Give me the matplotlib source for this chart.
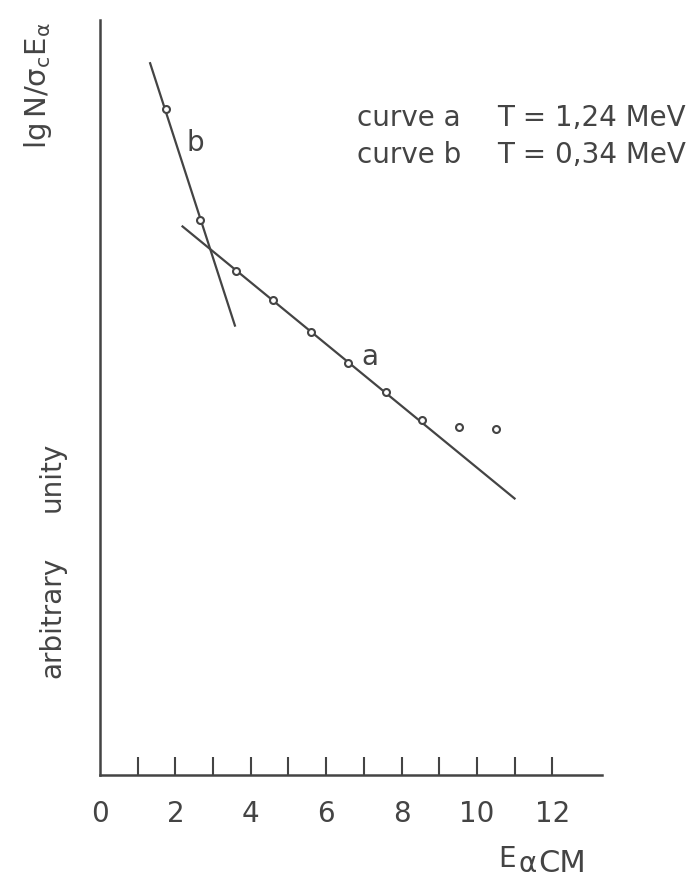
import matplotlib
matplotlib.use("Agg")
import matplotlib.pyplot as plt
from matplotlib.ticker import FixedLocator

plt.rcParams['font.family'] = ['DejaVu Sans']
plt.rcParams['mathtext.fontset'] = 'dejavusans'

# measured points (arbitrary units on y)
xa = [3.61, 4.60, 5.60, 6.59, 7.58, 8.55, 9.53, 10.52]
ya = [6.76, 6.37, 5.94, 5.53, 5.14, 4.76, 4.67, 4.64]
xb = [1.74, 2.65]
yb = [8.93, 7.45]

# fitted straight lines (end points)
line_a_x = [2.19, 11.0]
line_a_y = [7.36, 3.71]
line_b_x = [1.33, 3.58]
line_b_y = [9.55, 6.03]

xtick_vals = [0, 2, 4, 6, 8, 10, 12]
minor_vals = list(range(1, 13))

curve_names = ['curve a', 'curve b']
temps = ['T = 1,24 MeV', 'T = 0,34 MeV']

ink = '#444444'
fs = 20
W, H = 696, 885

fig = plt.figure(figsize=(W / 100, H / 100), dpi=100)
ax = fig.add_axes([100 / W, 1 - 775 / H, 502 / W, 755 / H])

ax.plot(line_a_x, line_a_y, color=ink, lw=1.6)
ax.plot(line_b_x, line_b_y, color=ink, lw=1.6)
ax.plot(xa, ya, 'o', ms=5, mfc='white', mec=ink, mew=1.5)
ax.plot(xb, yb, 'o', ms=5, mfc='white', mec=ink, mew=1.5)

ax.text(2.52, 8.48, 'b', color=ink, fontsize=fs, ha='center', va='center')
ax.text(7.16, 5.61, 'a', color=ink, fontsize=fs, ha='center', va='center')

ax.set_xlim(0, 13.32)
ax.set_ylim(0, 10.13)
for s in ['top', 'right']:
    ax.spines[s].set_visible(False)
for s in ['left', 'bottom']:
    ax.spines[s].set_color(ink)
    ax.spines[s].set_linewidth(1.8)

ax.set_yticks([])
ax.xaxis.remove_overlapping_locs = False
ax.xaxis.set_major_locator(FixedLocator(xtick_vals))
ax.xaxis.set_minor_locator(FixedLocator(minor_vals))
ax.set_xticklabels([str(v) for v in xtick_vals])
ax.tick_params(axis='x', which='major', length=0, pad=18, labelsize=fs, labelcolor=ink)
ax.tick_params(axis='x', which='minor', direction='in', length=13, width=1.5, color=ink)


def px(x, y):
    return x / W, 1 - y / H


for i, (nm, tt) in enumerate(zip(curve_names, temps)):
    yy = 126 + 37 * i
    fig.text(*px(357, yy), nm, color=ink, fontsize=fs, va='baseline')
    fig.text(*px(497, yy), tt, color=ink, fontsize=fs, va='baseline')

fig.text(*px(498, 867), 'E', color=ink, fontsize=fs, va='baseline')
fig.text(*px(518, 872), 'α', color=ink, fontsize=fs, va='baseline')
fig.text(*px(538, 872), 'CM', color=ink, fontsize=fs + 2, va='baseline')

fig.text(*px(38, 86), r'$\mathregular{lg\,N/\sigma_c E_\alpha}$', color=ink, fontsize=fs + 1,
         rotation=90, ha='center', va='center')
fig.text(*px(52, 617), 'arbitrary', color=ink, fontsize=fs,
         rotation=90, ha='center', va='center')
fig.text(*px(52, 477), 'unity', color=ink, fontsize=fs,
         rotation=90, ha='center', va='center')

fig.savefig('out.png', dpi=100, facecolor='white')
